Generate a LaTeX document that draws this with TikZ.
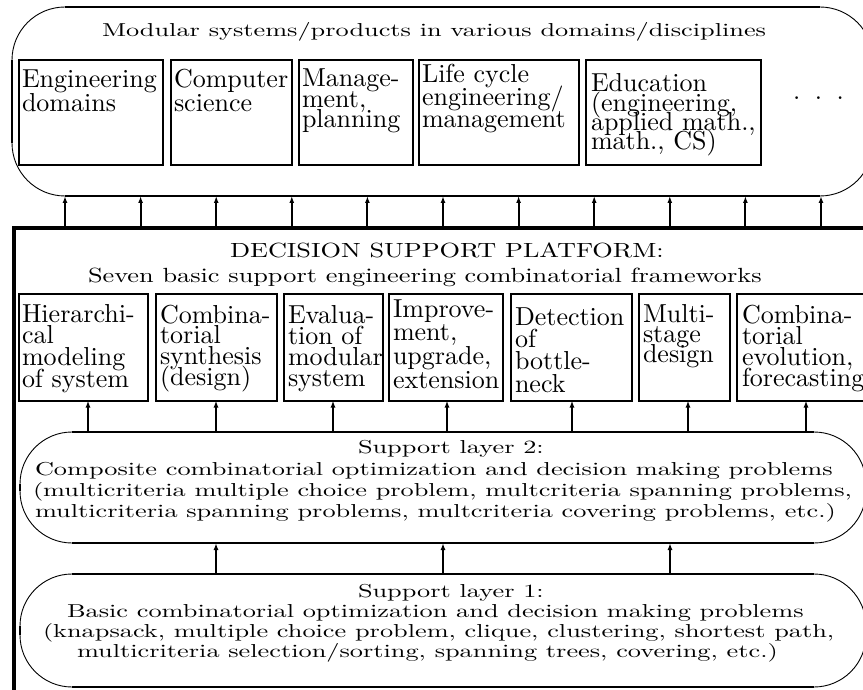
\documentclass[tikz,border=0pt]{standalone}
\usetikzlibrary{arrows.meta}
\usepackage{graphicx}
\newcommand\ST[1]{\scalebox{2.63}[1.87]{#1}}
\newcommand\PT[1]{\scalebox{2.63}[2.05]{#1}}
\newcommand\Lyn[1]{\hbox{#1}}
\newcommand\BT[2]{\scalebox{2.6}{\vtop{\baselineskip=#1\lineskiplimit=-\maxdimen\lineskip=0pt #2}}}
\newcommand\Oval[5]{%
  \draw[thinarc, rounded corners=#5pt] (#1,#2) rectangle (#3,#4);
  \draw[edge] (#1+#5,#2) -- (#3-#5,#2);
  \draw[edge] (#1+#5,#4) -- (#3-#5,#4);
  \draw[edge] (#1,#2+#5) -- (#1,#4-#5);
  \draw[edge] (#3,#2+#5) -- (#3,#4-#5);}
\tikzset{
  thinarc/.style={line width=0.9pt},
  edge/.style={line width=2pt},
  box/.style={draw, line width=2pt, inner sep=0pt, outer sep=0pt},
  arr/.style={line width=1.9pt, -{Latex[length=7pt,width=5pt]}},
  lbl/.style={anchor=base west, inner sep=0pt, outer sep=0pt},
}
\begin{document}
\begin{tikzpicture}[x=1pt,y=-1pt]
\useasboundingbox (0,0) rectangle (863,690);
\clip (0,0) rectangle (863,690);
\fill[white] (0,0) rectangle (863,690);

% ---------- top oval ----------
\Oval{12}{7}{873}{196}{53}
\coordinate (ovb) at (0,196);
\node[lbl] (title) at (102,37) {\ST{Modular systems/products in various domains/disciplines}};

\node[box, minimum width=144, minimum height=105] (d1) at (91,112.5) {};
\node[box, minimum width=121, minimum height=105] (d2) at (231.5,112.5) {};
\node[box, minimum width=114, minimum height=105] (d3) at (356,112.5) {};
\node[box, minimum width=160, minimum height=105] (d4) at (499,112.5) {};
\node[box, minimum width=175, minimum height=105] (d5) at (673.5,112.5) {};

\node[lbl] (t1) at (22,88) {\BT{8.85pt}{\Lyn{Engineering}\Lyn{domains}}};
\node[lbl] (t2) at (174,88) {\BT{8.85pt}{\Lyn{Computer}\Lyn{science}}};
\node[lbl] (t3) at (302,87) {\BT{7.7pt}{\Lyn{Manage-}\Lyn{ment,}\Lyn{planning}}};
\node[lbl] (t4) at (422,83) {\BT{8.65pt}{\Lyn{Life cycle}\Lyn{engineering/}\Lyn{management}}};
\node[lbl] (t5) at (591,92) {\BT{7.4pt}{\Lyn{Education}\Lyn{(engineering,}\Lyn{applied math.,}\Lyn{math., CS)}}};
\node[lbl] (dots) at (793,100) {\scalebox{2.6}{.\hspace{5.6pt}.\hspace{5.6pt}.}};

% ---------- platform ----------
\draw[line width=4pt] (13.5,700) -- (13.5,228) -- (880,228);
\coordinate (plt) at (0,228);
\foreach \i in {0,...,10}{
  \draw[arr] ([xshift={65+75.6*\i}]plt) -- ([xshift={65+75.6*\i}]ovb);
}
\node[lbl] (pt1) at (230,258) {\PT{DECISION SUPPORT PLATFORM:}};
\node[lbl] (pt2) at (88,282) {\PT{Seven basic support engineering combinatorial frameworks}};

\node[box, minimum width=129, minimum height=107] (b1) at (83.5,347) {};
\node[box, minimum width=121, minimum height=107] (b2) at (216.5,347) {};
\node[box, minimum width=99, minimum height=107] (b3) at (333.5,347) {};
\node[box, minimum width=114, minimum height=107] (b4) at (446,347) {};
\node[box, minimum width=121, minimum height=107] (b5) at (571.5,347) {};
\node[box, minimum width=91, minimum height=107] (b6) at (684.5,347) {};
\node[box, minimum width=133, minimum height=107] (b7) at (803.5,347) {};

\node[lbl] (s1) at (22,322) {\BT{8.35pt}{\Lyn{Hierarchi-}\Lyn{cal}\Lyn{modeling}\Lyn{of system}}};
\node[lbl] (s2) at (160,323) {\BT{8.0pt}{\Lyn{Combina-}\Lyn{torial}\Lyn{synthesis}\Lyn{(design)}}};
\node[lbl] (s3) at (288,323) {\BT{8.2pt}{\Lyn{Evalua-}\Lyn{tion of}\Lyn{modular}\Lyn{system}}};
\node[lbl] (s4) at (393,317) {\BT{9.2pt}{\Lyn{Improve-}\Lyn{ment,}\Lyn{upgrade,}\Lyn{extension}}};
\node[lbl] (s5) at (515,325) {\BT{8.6pt}{\Lyn{Detection}\Lyn{of}\Lyn{bottle-}\Lyn{neck}}};
\node[lbl] (s6) at (643,322) {\BT{7.8pt}{\Lyn{Multi-}\Lyn{stage}\Lyn{design}}};
\node[lbl] (s7) at (742,323) {\BT{8.2pt}{\Lyn{Combina-}\Lyn{torial}\Lyn{evolution,}\Lyn{forecasting}}};

% ---------- support layer 2 ----------
\Oval{20}{432}{866}{543}{52}
\coordinate (l2n) at (0,432);
\coordinate (l2s) at (0,543);
\foreach \b/\s in {b1/4.5,b2/-0.5,b3/-0.5,b4/1,b5/0.5,b6/3.5,b7/2.5}{
  \draw[arr] ([xshift=\s pt]\b.south |- l2n) -- ([xshift=\s pt]\b.south);
}
\node[lbl] (u1) at (358,453) {\ST{Support layer 2:}};
\node[lbl] (u2) at (35,475) {\ST{Composite combinatorial optimization and decision making problems}};
\node[lbl] (u3) at (33,496) {\ST{(multicriteria multiple choice problem, multcriteria spanning problems,}};
\node[lbl] (u4) at (35,517) {\ST{multicriteria spanning problems, multcriteria covering problems, etc.)}};

% ---------- support layer 1 ----------
\Oval{20}{574}{866}{687}{52}
\coordinate (l1n) at (0,574);
\foreach \x in {216,443,670}{
  \draw[arr] ([xshift=\x]l1n) -- ([xshift=\x]l2s);
}
\node[lbl] (v1) at (358,597) {\ST{Support layer 1:}};
\node[lbl] (v2) at (67,617) {\ST{Basic combinatorial optimization and decision making problems}};
\node[lbl] (v3) at (43,637) {\ST{(knapsack, multiple choice problem, clique, clustering, shortest path,}};
\node[lbl] (v4) at (77,657) {\ST{multicriteria selection/sorting, spanning trees, covering, etc.)}};
\end{tikzpicture}
\end{document}
